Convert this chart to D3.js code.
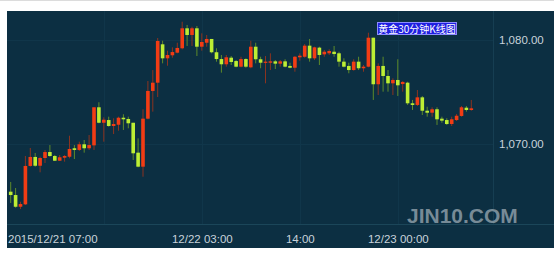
<!DOCTYPE html>
<html>
<head>
<meta charset="utf-8">
<script src="https://cdn.jsdelivr.net/npm/d3@7/dist/d3.min.js"></script>
<style>
  html, body { margin: 0; padding: 0; background: #fff; }
  svg { display: block; }
</style>
</head>
<body>
<svg id="chart"></svg>
<script>
// 30-minute gold candles
var openVals = [
  1065.47, 1065.15, 1064.03, 1064.26, 1067.93, 1068.79, 1067.95, 1068.69, 1069.26, 1068.88,
  1068.43, 1068.72, 1068.81, 1069.62, 1069.46, 1070.00, 1069.62, 1069.90, 1073.54, 1072.06,
  1072.32, 1071.75, 1071.87, 1072.54, 1072.42, 1072.06, 1069.20, 1067.86, 1072.45, 1075.10,
  1075.89, 1079.56, 1078.22, 1078.51, 1078.76, 1079.18, 1081.09, 1080.45, 1081.09, 1079.33,
  1079.71, 1080.07, 1078.80, 1078.15, 1077.65, 1078.28, 1077.96, 1077.42, 1078.15, 1077.36,
  1079.33, 1078.13, 1077.80, 1077.80, 1077.93, 1077.71, 1077.93, 1077.49, 1077.32, 1078.32,
  1078.37, 1079.43, 1078.22, 1079.24, 1078.60, 1078.70, 1078.85, 1078.70, 1077.90, 1077.49,
  1077.10, 1077.90, 1077.27, 1077.42, 1080.19, 1075.74, 1077.49, 1076.53, 1075.83, 1076.15,
  1075.76, 1075.89, 1073.92, 1073.76, 1074.49, 1073.21, 1073.02, 1073.35, 1072.45, 1072.32,
  1071.94, 1072.32, 1072.71, 1073.50, 1073.28
];
var highVals = [
  1066.40, 1065.82, 1064.51, 1068.88, 1069.65, 1069.17, 1068.81, 1069.45, 1069.93, 1068.98,
  1068.98, 1068.98, 1070.82, 1069.93, 1070.25, 1070.41, 1070.89, 1073.54, 1074.02, 1072.58,
  1072.64, 1072.49, 1072.64, 1072.87, 1072.64, 1072.06, 1070.57, 1073.35, 1076.05, 1077.10,
  1080.16, 1079.90, 1078.95, 1079.27, 1079.71, 1081.72, 1081.41, 1081.24, 1081.31, 1080.61,
  1080.45, 1080.07, 1079.18, 1078.54, 1078.54, 1078.44, 1078.06, 1078.37, 1078.22, 1079.90,
  1079.71, 1078.37, 1078.44, 1078.70, 1078.06, 1078.06, 1078.13, 1077.80, 1078.44, 1078.70,
  1079.59, 1080.07, 1079.33, 1079.33, 1079.02, 1079.08, 1079.40, 1078.85, 1078.22, 1077.80,
  1078.13, 1078.37, 1077.58, 1080.67, 1080.19, 1077.74, 1078.37, 1077.10, 1076.31, 1078.13,
  1076.05, 1075.98, 1074.24, 1075.19, 1074.62, 1073.59, 1073.54, 1073.54, 1072.64, 1072.49,
  1072.64, 1072.90, 1073.66, 1073.66, 1074.24
];
var lowVals = [
  1064.39, 1063.94, 1063.81, 1064.20, 1067.86, 1067.86, 1067.32, 1068.21, 1068.81, 1068.40,
  1068.40, 1068.34, 1068.66, 1068.59, 1069.36, 1069.20, 1069.46, 1069.46, 1072.01, 1070.25,
  1071.68, 1070.98, 1071.30, 1071.37, 1071.53, 1068.50, 1067.80, 1066.90, 1072.39, 1073.12,
  1074.52, 1077.74, 1077.51, 1078.28, 1078.70, 1079.08, 1079.40, 1079.40, 1078.44, 1078.95,
  1079.33, 1078.70, 1077.90, 1076.85, 1077.42, 1077.58, 1077.36, 1077.36, 1077.32, 1077.27,
  1077.74, 1077.27, 1075.83, 1077.10, 1077.20, 1077.42, 1077.36, 1077.27, 1076.94, 1077.99,
  1078.28, 1077.90, 1078.06, 1077.58, 1078.37, 1078.54, 1078.37, 1077.42, 1077.36, 1076.79,
  1077.04, 1077.10, 1076.94, 1077.36, 1074.24, 1074.71, 1075.03, 1075.03, 1074.71, 1074.62,
  1075.03, 1073.76, 1073.28, 1073.66, 1072.80, 1072.64, 1072.64, 1071.85, 1072.06, 1071.85,
  1071.75, 1072.23, 1072.64, 1073.12, 1073.21
];
var closeVals = [
  1065.15, 1064.03, 1064.29, 1067.93, 1068.79, 1067.95, 1068.69, 1069.26, 1068.88, 1068.43,
  1068.76, 1068.88, 1069.55, 1069.46, 1070.00, 1069.62, 1069.93, 1073.54, 1072.06, 1072.35,
  1071.75, 1071.94, 1072.54, 1072.39, 1072.01, 1069.14, 1067.86, 1072.45, 1075.10, 1075.89,
  1079.88, 1078.22, 1078.54, 1078.82, 1079.21, 1081.09, 1080.45, 1081.09, 1079.33, 1079.78,
  1080.07, 1078.80, 1078.15, 1077.65, 1078.32, 1077.87, 1077.42, 1078.15, 1077.42, 1079.33,
  1078.13, 1077.80, 1077.90, 1077.93, 1077.71, 1077.93, 1077.42, 1077.32, 1078.37, 1078.47,
  1079.43, 1078.22, 1079.27, 1078.54, 1078.85, 1078.92, 1078.63, 1077.90, 1077.42, 1077.10,
  1077.90, 1077.27, 1077.42, 1080.19, 1075.74, 1077.49, 1076.53, 1075.83, 1076.15, 1075.64,
  1075.96, 1073.92, 1073.76, 1074.49, 1073.21, 1073.02, 1073.35, 1072.39, 1072.26, 1071.94,
  1072.39, 1072.73, 1073.54, 1073.28, 1073.44
];
// x ticks are candle positions (index -1 = 12/21 07:00)
var tickIdx = [-1, 19, 39, 59, 79];
var tickLabels = ["2015/12/21 07:00", "", "12/22 03:00", "14:00", "12/23 00:00"];
var yTicks = [1070, 1080];
var title = "黄金30分钟K线图";

var W = 554, H = 253;
var padL = 7, padT = 11, plotRight = 493, plotBottom = 224, bgBottom = 248;

var svg = d3.select("#chart").attr("width", W).attr("height", H);

// top strip line + dark panel
svg.append("rect").attr("x", 0).attr("y", 0).attr("width", W).attr("height", 1).attr("fill", "#dcdcdc");
svg.append("rect").attr("x", padL).attr("y", padT)
    .attr("width", W - padL).attr("height", bgBottom - padT)
    .attr("fill", "#0c2f42");

var x = d3.scaleLinear().domain([0, openVals.length - 1]).range([10.7, 471.3]);
var y = d3.scaleLinear().domain([1070, 1080]).range([144.3, 39.7]);

// grid
svg.append("g").selectAll("line")
    .data(tickIdx.filter(d => x(d) > padL))
    .enter().append("line")
    .attr("x1", d => Math.round(x(d)) + 0.5).attr("x2", d => Math.round(x(d)) + 0.5)
    .attr("y1", padT).attr("y2", plotBottom)
    .attr("stroke", "#10364a").attr("stroke-width", 1);
svg.append("g").selectAll("line")
    .data(yTicks)
    .enter().append("line")
    .attr("x1", padL).attr("x2", plotRight)
    .attr("y1", d => Math.round(y(d)) + 0.5).attr("y2", d => Math.round(y(d)) + 0.5)
    .attr("stroke", "#10364a").attr("stroke-width", 1);
// plot border lines
svg.append("line").attr("x1", plotRight + 0.5).attr("x2", plotRight + 0.5)
    .attr("y1", padT).attr("y2", plotBottom).attr("stroke", "#163e52");
svg.append("line").attr("x1", padL).attr("x2", W)
    .attr("y1", plotBottom + 0.5).attr("y2", plotBottom + 0.5).attr("stroke", "#1b4659");

// watermark
svg.append("text")
    .attr("x", 407).attr("y", 223)
    .attr("font-family", "'Liberation Sans', Arial, sans-serif")
    .attr("font-weight", "bold").attr("font-size", "21px")
    .attr("fill", "#8b9da7").attr("fill-opacity", 0.85)
    .text("JIN10.COM");

// candles
var idx = d3.range(openVals.length);
var up = i => closeVals[i] >= openVals[i];
var candles = svg.append("g").selectAll("g").data(idx).enter().append("g");

candles.append("line")
    .attr("x1", i => x(i)).attr("x2", i => x(i))
    .attr("y1", i => y(highVals[i])).attr("y2", i => y(lowVals[i]))
    .attr("stroke", i => up(i) ? "#8a3320" : "#5d8a2a")
    .attr("stroke-width", 1);

var bw = 3.6;
candles.append("rect")
    .attr("x", i => x(i) - bw / 2)
    .attr("width", bw)
    .attr("y", i => y(Math.max(openVals[i], closeVals[i])))
    .attr("height", i => Math.max(1.2, Math.abs(y(openVals[i]) - y(closeVals[i]))))
    .attr("fill", i => up(i) ? "#f23c14" : "#bdee34");

// y axis labels
var yAxis = svg.append("g")
    .attr("transform", "translate(" + plotRight + ",0)")
    .call(d3.axisRight(y).tickValues(yTicks).tickFormat(d3.format(",.2f")).tickSize(0).tickPadding(6));
yAxis.select(".domain").remove();
yAxis.selectAll("text")
    .attr("fill", "#c9d3da")
    .attr("font-family", "'Liberation Sans', Arial, sans-serif")
    .attr("font-size", "11.5px");

// x axis labels
var xAxis = svg.append("g")
    .attr("transform", "translate(0," + plotBottom + ")")
    .call(d3.axisBottom(x).tickValues(tickIdx).tickFormat((d, i) => tickLabels[i]).tickSize(0).tickPadding(11));
xAxis.select(".domain").remove();
xAxis.selectAll("text")
    .attr("fill", "#c9d3da")
    .attr("font-family", "'Liberation Sans', Arial, sans-serif")
    .attr("font-size", "11.5px");
xAxis.selectAll(".tick").filter(d => d === tickIdx[0])
    .attr("transform", "translate(" + (padL + 1) + ",0)")
    .select("text").attr("text-anchor", "start");

// title box
var tb = svg.append("g").attr("transform", "translate(377,22)");
tb.append("rect").attr("x", 0.5).attr("y", 0.5).attr("width", 79).attr("height", 12)
    .attr("fill", "#1f1fe0").attr("stroke", "#8c8cff").attr("stroke-width", 1);
tb.append("text").attr("x", 40).attr("y", 10.5)
    .attr("text-anchor", "middle")
    .attr("font-family", "'Noto Sans CJK SC', sans-serif")
    .attr("font-size", "10px").attr("fill", "#ffffff")
    .text(title);

// bottom white strip
svg.append("rect").attr("x", 0).attr("y", bgBottom).attr("width", W).attr("height", H - bgBottom).attr("fill", "#fff");
</script>
</body>
</html>
